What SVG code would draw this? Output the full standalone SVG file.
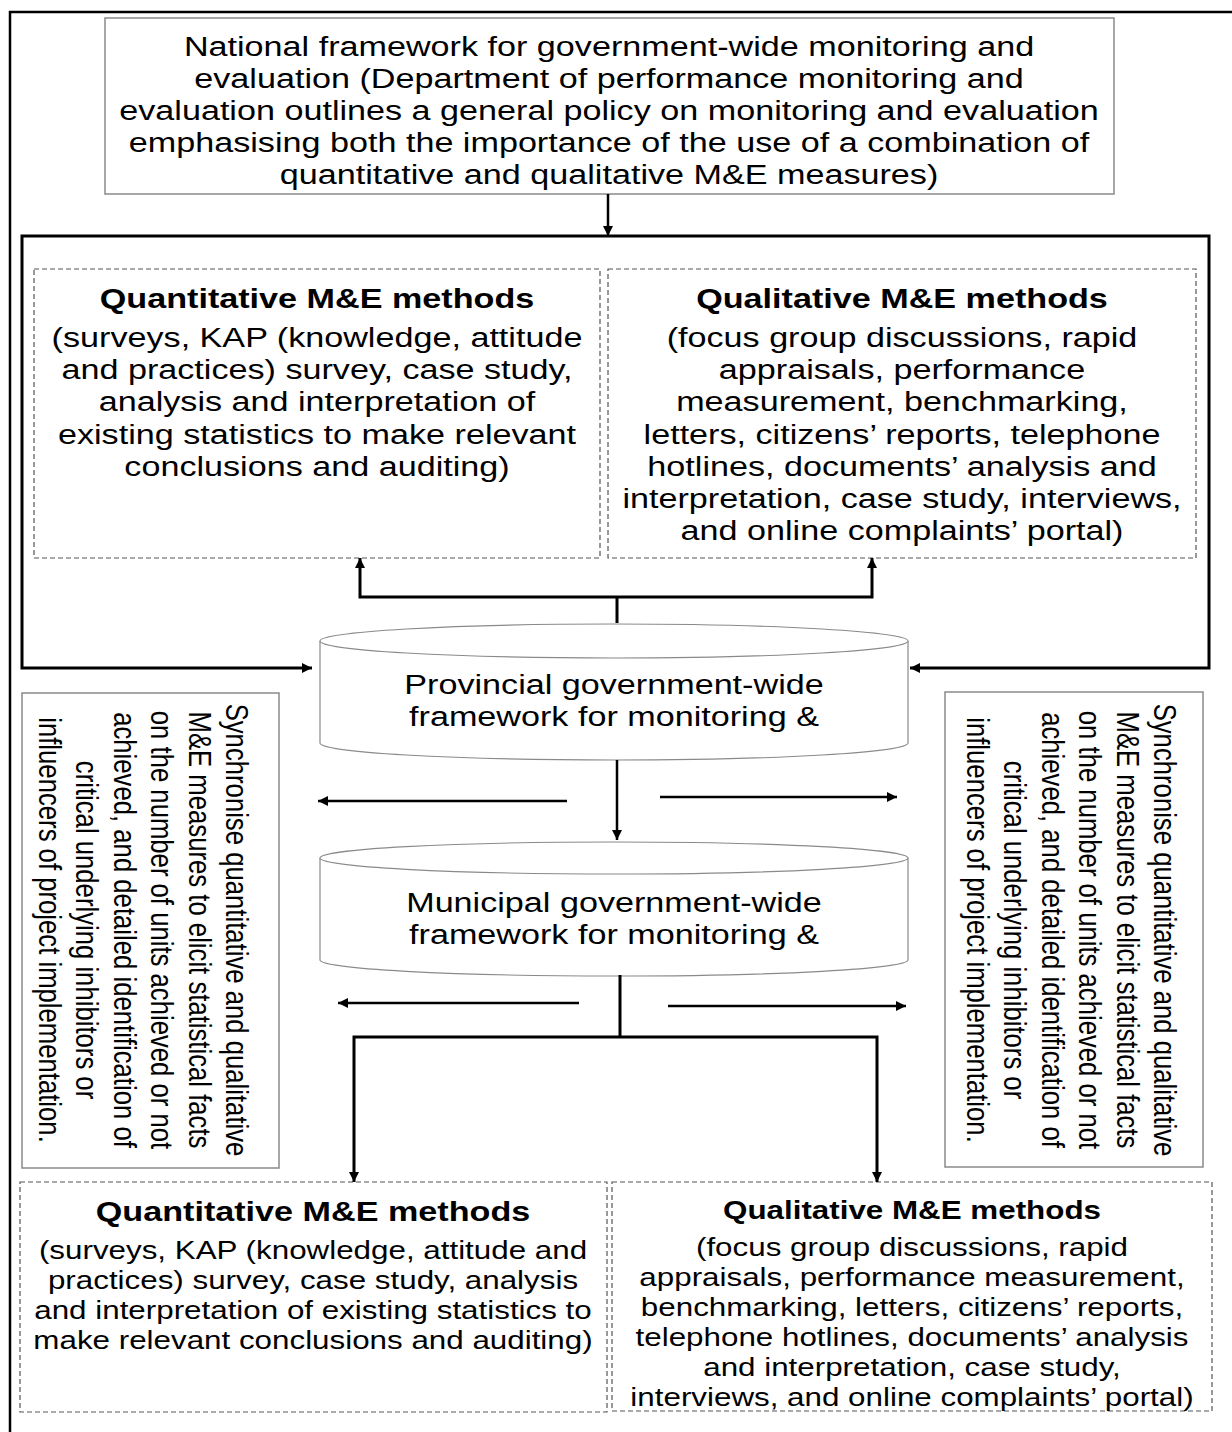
<svg xmlns="http://www.w3.org/2000/svg" width="1232" height="1432" viewBox="0 0 1232 1432">
<defs>
<style>
text{font-family:"Liberation Sans",Arial,sans-serif;fill:#000;text-anchor:middle}
.t28{font-size:28px}
.t26{font-size:25.7px}
.b{font-weight:bold}
.gbox{fill:#fff;stroke:#8a8a8a;stroke-width:1.5}
.dbox{fill:#fff;stroke:#555;stroke-width:1.2;stroke-dasharray:5 3}
.cyl{fill:#fff;stroke:#8a8a8a;stroke-width:1.2}
.con{fill:none;stroke:#000;stroke-width:3}
.con2{fill:none;stroke:#000;stroke-width:2.5}
</style>
<marker id="ah" viewBox="0 0 10 10" refX="10" refY="5" markerWidth="11" markerHeight="10" markerUnits="userSpaceOnUse" orient="auto-start-reverse">
<path d="M0,0 L10,5 L0,10 z" fill="#000"/>
</marker>
</defs>
<rect x="0" y="0" width="1232" height="1432" fill="#fff"/>
<rect x="10" y="12" width="1240" height="1440" fill="none" stroke="#000" stroke-width="2.5"/>

<g id="national">
<rect class="gbox" x="105" y="18" width="1009" height="176"/>
<g transform="translate(609 0) scale(1.22 1)">
<text class="t28" x="0" y="56">National framework for government-wide monitoring and</text>
<text class="t28" x="0" y="88">evaluation (Department of performance monitoring and</text>
<text class="t28" x="0" y="120">evaluation outlines a general policy on monitoring and evaluation</text>
<text class="t28" x="0" y="152">emphasising both the importance of the use of a combination of</text>
<text class="t28" x="0" y="184">quantitative and qualitative M&amp;E measures)</text>
</g>
</g>

<g id="quant-top">
<rect class="dbox" x="34" y="269" width="566" height="289"/>
<g transform="translate(317 0) scale(1.22 1)">
<text class="t28 b" x="0" y="308">Quantitative M&amp;E methods</text>
<text class="t28" x="0" y="347">(surveys, KAP (knowledge, attitude</text>
<text class="t28" x="0" y="379">and practices) survey, case study,</text>
<text class="t28" x="0" y="411">analysis and interpretation of</text>
<text class="t28" x="0" y="444">existing statistics to make relevant</text>
<text class="t28" x="0" y="476">conclusions and auditing)</text>
</g>
</g>

<g id="qual-top">
<rect class="dbox" x="608" y="269" width="588" height="289"/>
<g transform="translate(902 0) scale(1.22 1)">
<text class="t28 b" x="0" y="308">Qualitative M&amp;E methods</text>
<text class="t28" x="0" y="347">(focus group discussions, rapid</text>
<text class="t28" x="0" y="379">appraisals, performance</text>
<text class="t28" x="0" y="411">measurement, benchmarking,</text>
<text class="t28" x="0" y="444">letters, citizens’ reports, telephone</text>
<text class="t28" x="0" y="476">hotlines, documents’ analysis and</text>
<text class="t28" x="0" y="508">interpretation, case study, interviews,</text>
<text class="t28" x="0" y="540">and online complaints’ portal)</text>
</g>
</g>

<g id="provincial">
<path class="cyl" d="M320,641 L320,743 A294,17 0 0 0 908,743 L908,641"/>
<ellipse class="cyl" cx="614" cy="641" rx="294" ry="17"/>
<g transform="translate(614 0) scale(1.22 1)">
<text class="t28" x="0" y="694">Provincial government-wide</text>
<text class="t28" x="0" y="726">framework for monitoring &amp;</text>
</g>
</g>

<g id="municipal">
<path class="cyl" d="M320,858 L320,960 A294,16 0 0 0 908,960 L908,858"/>
<ellipse class="cyl" cx="614" cy="858" rx="294" ry="16"/>
<g transform="translate(614 0) scale(1.22 1)">
<text class="t28" x="0" y="912">Municipal government-wide</text>
<text class="t28" x="0" y="944">framework for monitoring &amp;</text>
</g>
</g>

<g id="sync-left">
<rect class="gbox" x="22" y="693" width="257" height="475"/>
<g transform="translate(237 930) scale(1.22 1) rotate(90)">
<text class="t26" x="0" y="9">Synchronise quantitative and qualitative</text>
<text class="t26" x="0" y="39.7">M&amp;E measures to elicit statistical facts</text>
<text class="t26" x="0" y="70.4">on the number of units achieved or not</text>
<text class="t26" x="0" y="101.1">achieved, and detailed identification of</text>
<text class="t26" x="0" y="131.8">critical underlying inhibitors or</text>
<text class="t26" x="0" y="162.5">influencers of project implementation.</text>
</g>
</g>

<g id="sync-right">
<rect class="gbox" x="945" y="692" width="258" height="475"/>
<g transform="translate(1165 930) scale(1.22 1) rotate(90)">
<text class="t26" x="0" y="9">Synchronise quantitative and qualitative</text>
<text class="t26" x="0" y="39.7">M&amp;E measures to elicit statistical facts</text>
<text class="t26" x="0" y="70.4">on the number of units achieved or not</text>
<text class="t26" x="0" y="101.1">achieved, and detailed identification of</text>
<text class="t26" x="0" y="131.8">critical underlying inhibitors or</text>
<text class="t26" x="0" y="162.5">influencers of project implementation.</text>
</g>
</g>

<g id="quant-bottom">
<rect class="dbox" x="20" y="1182" width="587" height="230"/>
<g transform="translate(313 0) scale(1.22 1)">
<text class="t28 b" x="0" y="1221">Quantitative M&amp;E methods</text>
<text class="t26" x="0" y="1259">(surveys, KAP (knowledge, attitude and</text>
<text class="t26" x="0" y="1289">practices) survey, case study, analysis</text>
<text class="t26" x="0" y="1319">and interpretation of existing statistics to</text>
<text class="t26" x="0" y="1349">make relevant conclusions and auditing)</text>
</g>
</g>

<g id="qual-bottom">
<rect class="dbox" x="612" y="1182" width="600" height="229"/>
<g transform="translate(912 0) scale(1.22 1)">
<text class="t26 b" x="0" y="1219">Qualitative M&amp;E methods</text>
<text class="t26" x="0" y="1256">(focus group discussions, rapid</text>
<text class="t26" x="0" y="1286">appraisals, performance measurement,</text>
<text class="t26" x="0" y="1316">benchmarking, letters, citizens’ reports,</text>
<text class="t26" x="0" y="1346">telephone hotlines, documents’ analysis</text>
<text class="t26" x="0" y="1376">and interpretation, case study,</text>
<text class="t26" x="0" y="1406">interviews, and online complaints’ portal)</text>
</g>
</g>

<g id="connectors">
<path class="con2" d="M608,194 V236" marker-end="url(#ah)"/>
<path class="con" d="M312,668 H22 V236 H1209 V668 H910" marker-start="url(#ah)" marker-end="url(#ah)"/>
<path class="con" d="M360,558 V597 H872 V558" marker-start="url(#ah)" marker-end="url(#ah)"/>
<path class="con" d="M617,597 V623"/>
<path class="con2" d="M617,760 V840" marker-end="url(#ah)"/>
<path class="con2" d="M567,801 H318" marker-end="url(#ah)"/>
<path class="con2" d="M660,797 H897" marker-end="url(#ah)"/>
<path class="con2" d="M579,1003 H338" marker-end="url(#ah)"/>
<path class="con2" d="M668,1006 H906" marker-end="url(#ah)"/>
<path class="con" d="M620,975 V1037"/>
<path class="con" d="M354,1182 V1037 H877 V1182" marker-start="url(#ah)" marker-end="url(#ah)"/>
</g>
</svg>
